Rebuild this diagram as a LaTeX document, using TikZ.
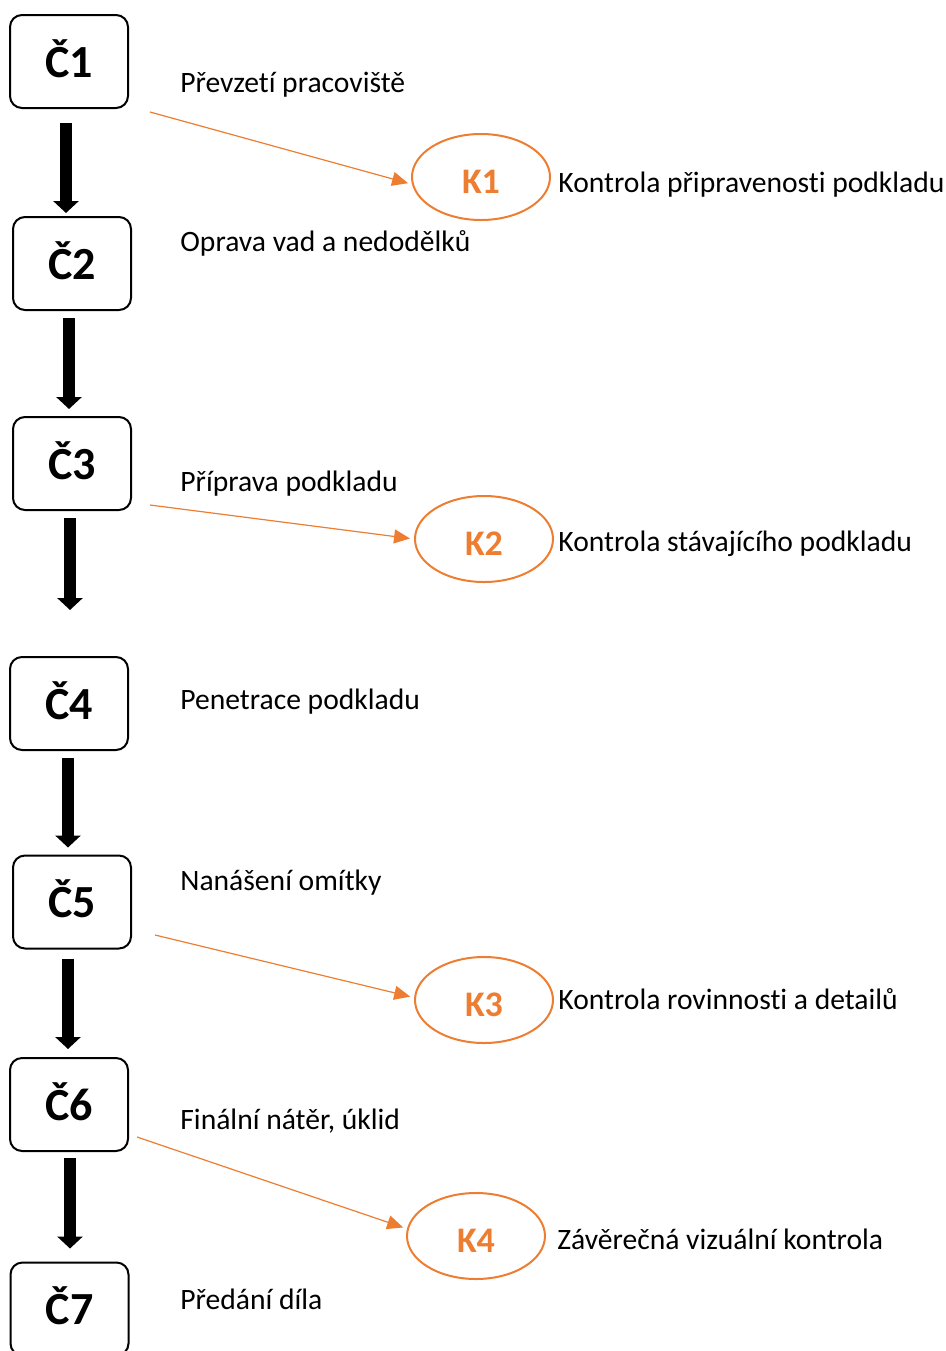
\documentclass[tikz,border=0pt]{standalone}
\usepackage{fontspec}
\setmainfont{Carlito}[Ligatures=NoCommon]
\usetikzlibrary{shapes.geometric, arrows.meta}
\definecolor{ctrl}{HTML}{ED7D31}

\begin{document}
\begin{tikzpicture}[x=0.5pt, y=-0.5pt,
    krok/.style={draw, line width=1pt, rounded corners=6pt, minimum width=59pt,
        minimum height=46.5pt, text height=15.5pt, text depth=0pt,
        font=\fontsize{23}{23}\selectfont\bfseries},
    kontrola/.style={ellipse, draw=ctrl, line width=1pt, minimum width=69pt,
        minimum height=43pt, text height=16pt, text depth=0pt, text=ctrl,
        font=\fontsize{18}{18}\selectfont\bfseries},
    popis/.style={anchor=base west, inner sep=0pt, font=\fontsize{14.8}{14.8}\selectfont},
    flow/.style={line width=6pt, -{Triangle[width=12.5pt, length=6pt]},
        shorten <=3.5pt, shorten >=3.5pt},
    vazba/.style={ctrl, line width=0.6pt, -{Triangle[width=7pt, length=8pt]},
        shorten >=2pt}]
    \clip (0,0) rectangle (946,1351);

    % steps
    \node [krok] (c1) at (69,61.5) {Č1};
    \node [krok] (c2) at (72,263.5) {Č2};
    \node [krok] (c3) at (72,463.5) {Č3};
    \node [krok] (c4) at (69,703.5) {Č4};
    \node [krok] (c5) at (72,902) {Č5};
    \node [krok] (c6) at (69,1104.5) {Č6};
    \node [krok] (c7) at (69.5,1309) {Č7};

    \node [popis] (t1) at (180,92) {Převzetí pracoviště};
    \node [popis] (t2) at (180,251) {Oprava vad a nedodělků};
    \node [popis] (t3) at (180,491) {Příprava podkladu};
    \node [popis] (t4) at (180,709) {Penetrace podkladu};
    \node [popis] (t5) at (180,890) {Nanášení omítky};
    \node [popis] (t6) at (180,1129) {Finální nátěr, úklid};
    \node [popis] (t7) at (180,1309) {Předání díla};

    % checks
    \node [kontrola] (k1) at (481,177) {K1};
    \node [kontrola] (k2) at (484,539) {K2};
    \node [kontrola] (k3) at (484,1000) {K3};
    \node [kontrola] (k4) at (476,1236) {K4};

    \node [popis] (p1) at (558,192) {Kontrola připravenosti podkladu};
    \node [popis] (p2) at (558,551) {Kontrola stávajícího podkladu};
    \node [popis] (p3) at (558,1009) {Kontrola rovinnosti a detailů};
    \node [popis] (p4) at (557,1249) {Závěrečná vizuální kontrola};

    \draw [flow, shorten <=7pt, shorten >=1.5pt] (c1.south -| 66,0) -- (c2.north -| 66,0);
    \draw [flow] (c2.south -| 69,0) -- (c3.north -| 69,0);
    \coordinate (gap) at (70,617);
    \draw [flow] (c3.south -| 70,0) -- (gap);
    \draw [flow] (c4.south -| 68,0) -- (c5.north -| 68,0);
    \draw [flow, shorten <=4.5pt, shorten >=4pt] (c5.south -| 68,0) -- (c6.north -| 68,0);
    \draw [flow, shorten <=3pt, shorten >=6.5pt] (c6.south -| 70,0) -- (c7.north -| 70,0);

    \coordinate (s1) at (150,112);
    \coordinate (s3) at (150,505);
    \coordinate (s5) at (155,935);
    \coordinate (s6) at (137,1137);
    \draw [vazba] (s1) -- (k1.186);
    \draw [vazba] (s3) -- (k2.west);
    \draw [vazba] (s5) -- (k3.178);
    \draw [vazba] (s6) -- (k4.174);
\end{tikzpicture}
\end{document}
